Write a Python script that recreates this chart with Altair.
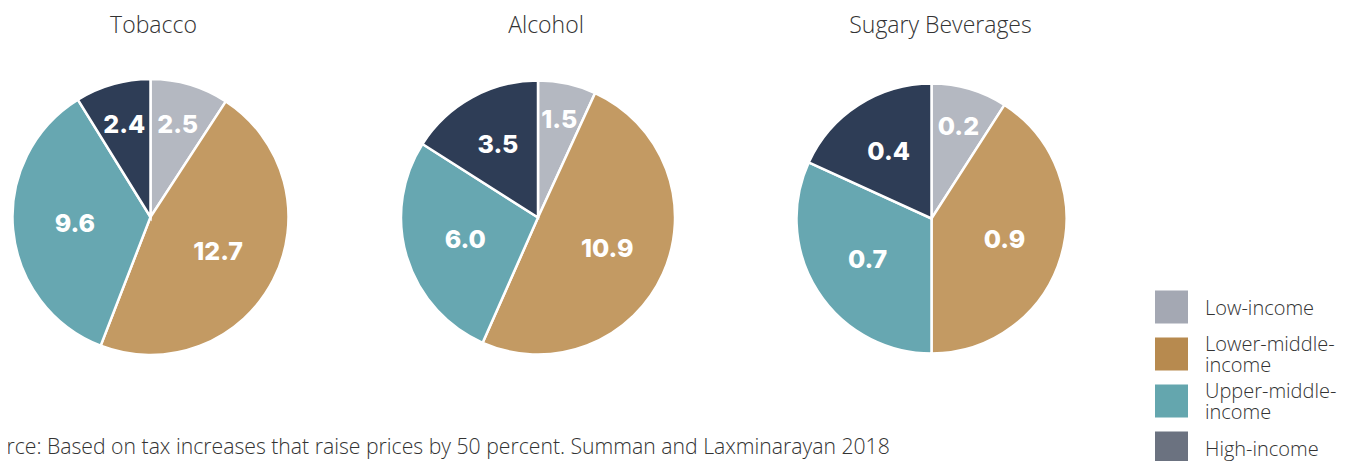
import altair as alt
import pandas as pd

categories = ["Low-income", "Lower-middle-income", "Upper-middle-income", "High-income"]
legend_labels = ["Low-income", "Lower-middle-\nincome", "Upper-middle-\nincome", "High-income"]
charts = ["Tobacco", "Alcohol", "Sugary Beverages"]
tobacco = [2.5, 12.7, 9.6, 2.4]
alcohol = [1.5, 10.9, 6.0, 3.5]
sugary = [0.2, 0.9, 0.7, 0.4]
source_note = "Source: Based on tax increases that raise prices by 50 percent. Summan and Laxminarayan 2018"

pie_colors = ["#b4b8c1", "#c39a63", "#67a7b1", "#2e3d56"]
legend_colors = ["#a4a8b3", "#b78a4f", "#64a6ae", "#6b7280"]

rows = []
for name, vals in zip(charts, [tobacco, alcohol, sugary]):
    for i, (c, v) in enumerate(zip(categories, vals)):
        rows.append({"chart": name, "category": c, "order": i, "value": v})
df = pd.DataFrame(rows)
legend_df = pd.DataFrame({"category": categories, "label": legend_labels})

TEXT_FONT = "Open Sans"
NUM_FONT = "Inter"
TEXT_COLOR = "#333333"

pie_scale = alt.Scale(domain=categories, range=pie_colors)
leg_scale = alt.Scale(domain=categories, range=legend_colors)
theta_scale = alt.Scale(domain=[0, 1])

# layout: (center x, center y, radius, title x)
layout = {
    "Tobacco": (142.5, 209, 138, 145.5),
    "Alcohol": (530, 209.5, 137, 538),
    "Sugary Beverages": (923.5, 210.5, 135, 932.5),
}


def pie(name):
    cx, cy, r, tx = layout[name]
    base = alt.Chart(df).transform_filter(
        alt.datum.chart == name
    ).transform_joinaggregate(total="sum(value)").transform_calculate(
        share="datum.value / datum.total",
    )
    arc = base.mark_arc(outerRadius=r, stroke="white", strokeWidth=2.5).encode(
        theta=alt.Theta("share:Q", stack=True, scale=theta_scale),
        order=alt.Order("order:Q", sort="ascending"),
        color=alt.Color("category:N", scale=pie_scale, legend=None),
        x=alt.value(cx),
        y=alt.value(cy),
    )
    lab = base.transform_window(
        cum="sum(share)", sort=[alt.SortField("order", order="ascending")]
    ).transform_calculate(
        mid="datum.cum - datum.share / 2",
        lr="max(76, 112 - 180 * datum.share)",
    ).mark_text(font=NUM_FONT, fontSize=25, fontWeight=800, color="white",
                align="center", baseline="middle").encode(
        theta=alt.Theta("mid:Q", stack=None, scale=theta_scale),
        radius=alt.Radius("lr:Q", scale=None),
        text=alt.Text("value:Q", format=".1f"),
        x=alt.value(cx),
        y=alt.value(cy),
    )
    title = alt.Chart(pd.DataFrame({"t": [name]})).mark_text(
        font=TEXT_FONT, fontSize=23, fontWeight=300, color=TEXT_COLOR,
        align="center", baseline="middle"
    ).encode(text="t:N", x=alt.value(tx), y=alt.value(18))
    return [arc, lab, title]


layers = []
for n in charts:
    layers += pie(n)

ypos = alt.Scale(domain=categories, range=[299, 440], padding=0)
squares = alt.Chart(legend_df).mark_square(size=1089, opacity=1).encode(
    x=alt.value(1163.5),
    y=alt.Y("category:N", scale=ypos, axis=None),
    color=alt.Color("category:N", scale=leg_scale, legend=None),
)
leg_base = alt.Chart(legend_df).transform_calculate(
    multi="indexof(datum.label, '\\n') >= 0"
)
leg_style = dict(font=TEXT_FONT, fontSize=20, fontWeight=300, lineHeight=21,
                 lineBreak="\n", align="left", baseline="middle", color=TEXT_COLOR)
leg_enc = dict(
    x=alt.value(1197),
    y=alt.Y("category:N", scale=ypos, axis=None),
    text="label:N",
)
leg_single = leg_base.transform_filter("!datum.multi").mark_text(dy=2, **leg_style).encode(**leg_enc)
leg_multi = leg_base.transform_filter("datum.multi").mark_text(dy=-9, **leg_style).encode(**leg_enc)

source = alt.Chart(pd.DataFrame({"s": [source_note]})).mark_text(
    font=TEXT_FONT, fontSize=21.2, fontWeight=300, align="left", baseline="middle",
    color=TEXT_COLOR
).encode(text="s:N", x=alt.value(-38), y=alt.value(440))

chart = alt.layer(*layers, squares, leg_single, leg_multi, source).resolve_scale(
    color="independent"
).properties(
    width=1337, height=453, autosize="none", padding=0
).configure_view(strokeWidth=0)

chart.save("out.html", embed_options={"renderer": "svg", "actions": False})
